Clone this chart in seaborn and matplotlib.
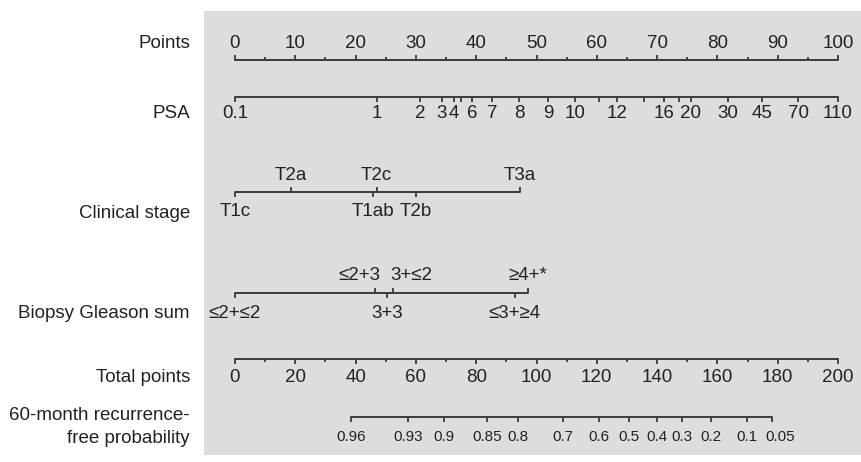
import numpy as np
import pandas as pd
import matplotlib
matplotlib.use("Agg")
import matplotlib.pyplot as plt
import seaborn as sns

sns.set_theme(style="white")
plt.rcParams["font.family"] = ["Liberation Sans", "DejaVu Sans"]

# ---- nomogram scales (positions expressed on the 0-100 "Points" scale) ----
points_values = [0, 10, 20, 30, 40, 50, 60, 70, 80, 90, 100]
points_minor = [5, 15, 25, 35, 45, 55, 65, 75, 85, 95]

psa_values = [0.1, 1, 2, 3, 4, 5, 6, 7, 8, 9, 10, 11, 12, 14, 16, 18, 20, 30, 45, 70, 110]
psa_points = [0, 23.5, 30.7, 34.3, 36.3, 37.5, 39.3, 42.6, 47.1, 51.9, 56.4,
              60.4, 63.3, 67.8, 71.1, 73.6, 75.6, 81.8, 87.4, 93.4, 100]
psa_labels = ["0.1", "1", "2", "3", "4", "", "6", "7", "8", "9", "10",
              "", "12", "", "16", "", "20", "30", "45", "70", "110"]

stage_labels = ["T1c", "T2a", "T1ab", "T2c", "T2b", "T3a"]
stage_points = [0, 9.3, 22.9, 23.5, 30.0, 47.3]
stage_side = ["below", "above", "below", "above", "below", "above"]

gleason_labels = ["\u22642+\u22642", "\u22642+3", "3+3", "3+\u22642", "\u22643+\u22654", "\u22654+*"]
gleason_points = [0, 23.2, 25.2, 26.2, 46.4, 48.6]
gleason_side = ["below", "above", "below", "above", "below", "above"]

total_values = [0, 20, 40, 60, 80, 100, 120, 140, 160, 180, 200]
total_minor = [10, 30, 50, 70, 90, 110, 130, 150, 170, 190]

prob_labels = ["0.96", "0.93", "0.9", "0.85", "0.8", "0.7", "0.6", "0.5",
               "0.4", "0.3", "0.2", "0.1", "0.05"]
prob_total = [38.5, 57.4, 69.3, 83.6, 93.9, 108.8, 120.7, 130.7, 140.0,
              148.3, 157.9, 169.8, 178.1]

row_names = ["Points", "PSA", "Clinical stage", "Biopsy Gleason sum",
             "Total points", "60-month recurrence-\nfree probability"]

# ---- layout ----
W, H = 862, 462
x0_px, px_per_pt = 235, 6.03
row_y = {"points": 60, "psa": 97, "stage": 192, "gleason": 293, "total": 359, "prob": 417}
name_y = [43, 114, 213, 313, 377, 427]

line_col = "#3a3a3a"
text_col = "#222222"
fs = 13.5
tick = 5.0

fig = plt.figure(figsize=(W / 100, H / 100), dpi=100)
ax = fig.add_axes([0, 0, 1, 1])
ax.set_xlim(-x0_px / px_per_pt, (W - x0_px) / px_per_pt)
ax.set_ylim(H, 0)
ax.axis("off")


def px2u(p):
    return (p - x0_px) / px_per_pt


# grey panel
ax.add_patch(plt.Rectangle((px2u(204), 11), px2u(W) - px2u(204), 444,
                           facecolor="#dcdde0", edgecolor="none", zorder=0))

tot_to_pts = [v / 2 for v in total_values]
prob_pts = [v / 2 for v in prob_total]

segments = pd.DataFrame({
    "x": [0, 100, 0, 100, 0, stage_points[-1], 0, gleason_points[-1], 0, 100,
          prob_pts[0], prob_pts[-1]],
    "y": [row_y["points"]] * 2 + [row_y["psa"]] * 2 + [row_y["stage"]] * 2 +
         [row_y["gleason"]] * 2 + [row_y["total"]] * 2 + [row_y["prob"]] * 2,
    "row": ["points"] * 2 + ["psa"] * 2 + ["stage"] * 2 + ["gleason"] * 2 +
           ["total"] * 2 + ["prob"] * 2,
})
sns.lineplot(data=segments, x="x", y="y", units="row", estimator=None,
             color=line_col, lw=1.4, ax=ax, legend=False, sort=False)

kw = dict(color=line_col, lw=1.3)


def ticks_up(xs, y, length):
    ax.vlines(xs, y - length, y, **kw)


def ticks_down(xs, y, length):
    ax.vlines(xs, y, y + length, **kw)


def label(x, y, s, size=fs, ha="center", dx=0.0):
    ax.text(x + dx / px_per_pt, y, s, ha=ha, va="center", fontsize=size,
            color=text_col)


# Points
y = row_y["points"]
ticks_up(points_values, y, tick)
ticks_up(points_minor, y, 3)
for v in points_values:
    label(v, y - 17, str(v))

# PSA
y = row_y["psa"]
ticks_down(psa_points, y, tick)
for p, s in zip(psa_points, psa_labels):
    if s:
        label(p, y + 17, s)

# Clinical stage
y = row_y["stage"]
for p, s, side in zip(stage_points, stage_labels, stage_side):
    if side == "above":
        ticks_up([p], y, tick)
        label(p, y - 17, s)
    else:
        ticks_down([p], y, tick)
        label(p, y + 20, s)

# Biopsy Gleason sum: the two crowded upper labels are pushed apart
nudge = {"\u22642+3": -16, "3+\u22642": 18}
y = row_y["gleason"]
for p, s, side in zip(gleason_points, gleason_labels, gleason_side):
    if side == "above":
        ticks_up([p], y, tick)
        label(p, y - 18, s, dx=nudge.get(s, 0))
    else:
        ticks_down([p], y, tick)
        label(p, y + 20, s)

# Total points
y = row_y["total"]
ticks_down(tot_to_pts, y, tick)
ticks_down([v / 2 for v in total_minor], y, 3)
for v, p in zip(total_values, tot_to_pts):
    label(p, y + 19, str(v))

# Recurrence-free probability
y = row_y["prob"]
ticks_down(prob_pts, y, tick)
for i, (p, s) in enumerate(zip(prob_pts, prob_labels)):
    label(p, y + 20, s, size=11, dx=8 if i == len(prob_pts) - 1 else 0)

# Row names
for s, yy in zip(row_names, name_y):
    ax.text(px2u(190), yy, s, ha="right", va="center", fontsize=fs,
            color=text_col, linespacing=1.5)

fig.savefig("out.png", dpi=100, facecolor="white")
